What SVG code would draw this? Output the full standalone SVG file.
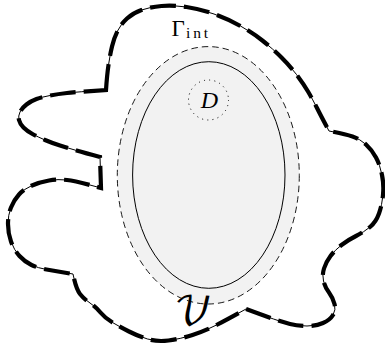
<svg xmlns="http://www.w3.org/2000/svg" width="385" height="347" viewBox="0 0 385 347">
<style>
.thin{fill:none;stroke:#000;stroke-width:1}
.thick{fill:none;stroke:#000;stroke-width:4.2;stroke-dasharray:26 8}
.lbl{font-family:"Liberation Serif","DejaVu Serif",serif;fill:#000}
</style>
<defs>
<path id="blob" d="M106,90 Q107,75 108.5,65 Q110,55 112,46.5 Q114,38 117.5,31 Q121,24 127,18.5 Q133,13 141.5,10 Q150,7 161.5,6 Q173,5 186.5,7 Q200,9 214,14 Q228,19 240.5,26 Q253,33 263,41 Q273,49 281.5,57.5 Q290,66 296.5,74.5 Q303,83 308,91.5 Q313,100 317,108 Q321,116 329,131 Q345,134 352.5,136.5 Q360,139 366,144.5 Q372,150 376,157.5 Q380,165 382,175 Q384,185 383,195 Q382,205 379,213.5 Q376,222 370,227 Q364,232 356,236 Q348,240 341.5,245 Q335,250 330.5,256 Q326,262 324,268.5 Q322,275 323.5,281 Q325,287 329,292.5 Q333,298 334.5,304 Q336,310 333,315 Q330,320 323,323 Q316,326 307,326 Q298,326 290,324 Q282,322 273.5,319 Q265,316 246,309 Q228,319 216.5,325 Q205,331 192.5,335 Q180,339 168.5,340.5 Q157,342 147.5,339 Q138,336 129,331.5 Q120,327 112.5,322.5 Q105,318 100.5,312.5 Q96,307 90,303 Q84,299 80,294 Q76,289 73,274 Q55,271 46.5,269.5 Q38,268 31.5,265 Q25,262 19.5,256 Q14,250 11,241.5 Q8,233 8,224 Q8,215 11,207.5 Q14,200 19,194.5 Q24,189 32,185.5 Q40,182 49,180.5 Q58,179 67,180 Q76,181 101,188 L100,157 Q85,153 76.5,150.5 Q68,148 60,145.5 Q52,143 45,140 Q38,137 32.5,134 Q27,131 23.5,127.5 Q20,124 19,120 Q18,116 20,112 Q22,108 26.5,104.5 Q31,101 36.5,99 Q42,97 50,95.5 Q58,94 67,93 Q76,92 106,90 Z"/>
</defs>
<g id="region-V">
<use href="#blob" class="thin"/>
<use href="#blob" class="thick"/>
</g>
<g id="gamma-int">
<ellipse cx="208.3" cy="175.3" rx="91" ry="128.7" fill="#f2f2f2" stroke="#000" stroke-width="0.9" stroke-dasharray="6.5 4"/>
</g>
<g id="inner">
<ellipse cx="208.8" cy="175" rx="76.2" ry="113.3" fill="none" stroke="#000" stroke-width="1"/>
</g>
<g id="D">
<circle cx="208.5" cy="100" r="20" fill="none" stroke="#000" stroke-width="1" stroke-dasharray="1 4.24"/>
<text class="lbl" x="209.5" y="108" font-size="24" font-style="italic" text-anchor="middle">D</text>
</g>
<g id="labels">
<text class="lbl" x="171.5" y="36" font-size="23">Γ</text>
<text class="lbl" x="186" y="37.5" font-size="15.5" textLength="22" lengthAdjust="spacing">int</text>
<text x="174" y="325" font-size="40" font-family="'DejaVu Math TeX Gyre','DejaVu Serif','DejaVu Sans',serif">𝒱</text>
</g>
</svg>
